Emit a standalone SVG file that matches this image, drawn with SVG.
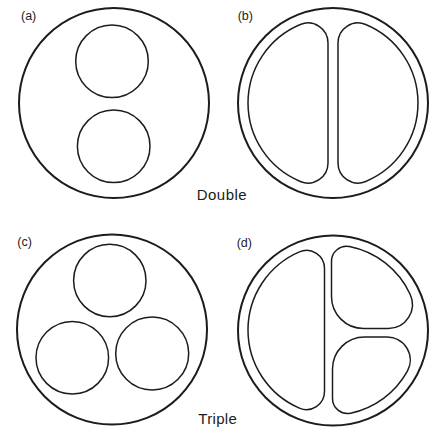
<svg xmlns="http://www.w3.org/2000/svg" width="435" height="431" viewBox="0 0 435 431">
<style>
.outer{fill:none;stroke:#1c1c1c;stroke-width:2}
.inner{fill:none;stroke:#1c1c1c;stroke-width:1.5}
.lbl{font-family:"Liberation Sans",Arial,sans-serif;font-size:12.5px;fill:#1c1c1c}
.cap{font-family:"Liberation Sans",Arial,sans-serif;font-size:15px;fill:#1c1c1c}
</style>
<rect width="435" height="431" fill="#ffffff"/>
<g id="panel-a">
<text class="lbl" x="21" y="20">(a)</text>
<circle class="outer" cx="114" cy="103" r="95"/>
<circle class="inner" cx="112" cy="61.3" r="36.3"/>
<circle class="inner" cx="113.7" cy="146.3" r="36.3"/>
</g>
<g id="panel-b">
<text class="lbl" x="237.7" y="20">(b)</text>
<circle class="outer" cx="333" cy="103" r="95"/>
<path class="inner" d="M328,43 L328,163 A20,20 0 0 1 300.31,181.46 A85,85 0 0 1 300.31,24.54 A20,20 0 0 1 328,43 Z"/>
<path class="inner" d="M338,43 A20,20 0 0 1 365.69,24.54 A85,85 0 0 1 365.69,181.46 A20,20 0 0 1 338,163 Z"/>
</g>
<text id="label-double" class="cap" x="196.7" y="199.7" textLength="50" lengthAdjust="spacing">Double</text>
<g id="panel-c">
<text class="lbl" x="17.3" y="246">(c)</text>
<circle class="outer" cx="112" cy="329.5" r="95"/>
<circle class="inner" cx="109.8" cy="280.5" r="36.2"/>
<circle class="inner" cx="72.3" cy="357.7" r="36.3"/>
<circle class="inner" cx="152.2" cy="353.5" r="36.5"/>
</g>
<g id="panel-d">
<text class="lbl" x="236.7" y="247">(d)</text>
<circle class="outer" cx="333" cy="330.5" r="95"/>
<path class="inner" d="M324.5,268.46 L324.5,391.54 A18,18 0 0 1 299.38,408.07 A85,85 0 0 1 299.38,251.93 A18,18 0 0 1 324.5,268.46 Z"/>
<path class="inner" d="M331.5,296.5 L331.5,261.31 A15,15 0 0 1 349.39,246.59 A85,85 0 0 1 410.21,294.47 A24,24 0 0 1 388.41,328.5 L363.5,328.5 A32,32 0 0 1 331.5,296.5 Z"/>
<path class="inner" d="M364.5,337 L387.26,337 A23,23 0 0 1 407.39,371.13 A85,85 0 0 1 350.61,413.15 A15,15 0 0 1 332.5,398.48 L332.5,369 A32,32 0 0 1 364.5,337 Z"/>
</g>
<text id="label-triple" class="cap" x="198.3" y="424" textLength="38.5" lengthAdjust="spacing">Triple</text>
</svg>
